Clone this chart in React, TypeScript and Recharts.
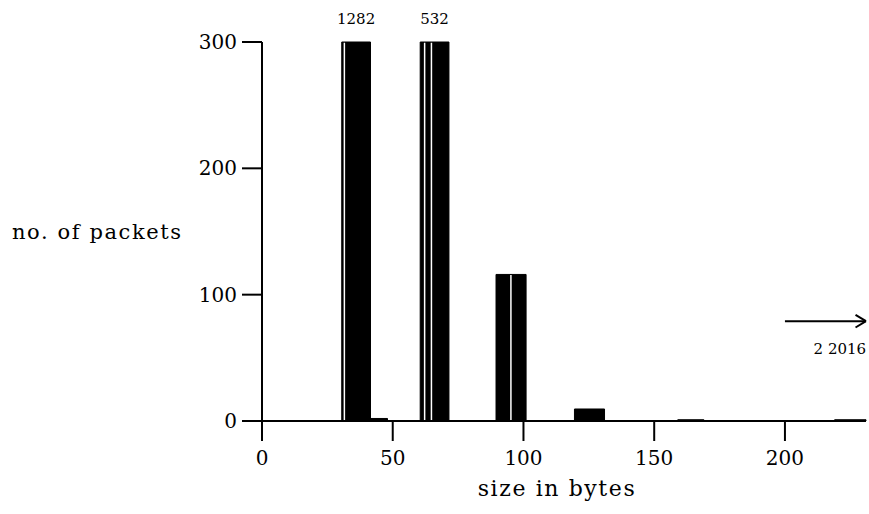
import React from 'react';
import { ComposedChart, Area, XAxis, YAxis, ReferenceDot, ReferenceLine } from 'recharts';

// Histogram bins (size in bytes) and packet counts
const binStart = [30.5, 41.5, 60.5, 89.5, 119.5, 159, 219];
const binEnd = [41.5, 48, 71.5, 101, 131, 169, 231];
const counts = [1282, 2, 532, 116, 9.5, 1, 1];

// Counts beyond the axis top are written above the bars
const yMax = 300;
const overflowX = [36, 66];
const overflowLabels = ['1282', '532'];

// Print artefacts: thin white stripes inside the tall bars
const stripeX = [31.5, 62.2, 64.8, 95.2];
const stripeTop = [300, 300, 300, 116];

const xTicks = [0, 50, 100, 150, 200];
const yTicks = [0, 100, 200, 300];

// Off-scale note (arrow to the right)
const arrowFrom = 200;
const arrowTo = 231;
const arrowY = 79;
const noteX = 221;
const noteY = 57;
const noteText = '2  2016';

const font = 'DejaVu Serif';

const stepData: { x: number; y: number }[] = [{ x: 0, y: 0 }];
binStart.forEach((s, i) => {
  stepData.push({ x: s, y: Math.min(counts[i], yMax) });
  stepData.push({ x: binEnd[i], y: 0 });
});

const X_TICK_LEN = 20;

const XTick = (props: any) => {
  const { x, y, payload } = props;
  return (
    <g>
      <path d={`M${x},${y - X_TICK_LEN}L${x},${y}`} stroke="#000" strokeWidth={2} fill="none" />
      <text x={x} y={y + 24} textAnchor="middle" fill="#000" fontSize={20} fontFamily={font}>
        {payload.value}
      </text>
    </g>
  );
};

export default function App() {
  return (
    <div style={{ position: 'absolute', left: 0, top: 0, background: '#fff', width: 869, height: 514 }}>
      <ComposedChart
        width={869}
        height={514}
        data={stepData}
        margin={{ top: 42, right: 3, bottom: 13, left: 0 }}
        style={{ overflow: 'visible' }}
      >
        <XAxis
          dataKey="x"
          type="number"
          domain={[0, 231]}
          ticks={xTicks}
          height={80}
          stroke="#000"
          tickSize={X_TICK_LEN}
          tickMargin={0}
          axisLine={{ stroke: '#000', strokeWidth: 2 }}
          tickLine={false}
          tick={<XTick />}
          label={{ value: 'size in bytes', position: 'insideBottom', offset: 5, dx: -7, fill: '#000', fontSize: 22, fontFamily: font, letterSpacing: 1.6 }}
        />
        <YAxis
          type="number"
          domain={[0, yMax]}
          ticks={yTicks}
          width={262}
          stroke="#000"
          tickSize={20}
          tickMargin={5}
          axisLine={{ stroke: '#000', strokeWidth: 2 }}
          tickLine={{ stroke: '#000', strokeWidth: 2 }}
          tick={{ fill: '#000', fontSize: 20, fontFamily: font }}
          label={{ value: 'no. of packets', position: 'insideLeft', offset: 12, fill: '#000', fontSize: 21, fontFamily: font, letterSpacing: 1.6 }}
        />
        <Area
          type="stepAfter"
          dataKey="y"
          stroke="#000"
          strokeWidth={1}
          fill="#000"
          fillOpacity={1}
          isAnimationActive={false}
          dot={false}
          activeDot={false}
        />
        {stripeX.map((sx, i) => (
          <ReferenceLine
            key={'s' + i}
            segment={[{ x: sx, y: 0.5 }, { x: sx, y: stripeTop[i] - 0.5 }]}
            stroke="#fff"
            strokeWidth={1.5}
          />
        ))}
        {overflowX.map((ox, i) => (
          <ReferenceDot
            key={'o' + i}
            x={ox}
            y={yMax}
            r={0}
            ifOverflow="visible"
            label={{ value: overflowLabels[i], position: 'top', offset: 18, fill: '#000', fontSize: 15, fontFamily: font }}
          />
        ))}
        <ReferenceLine
          segment={[{ x: arrowFrom, y: arrowY }, { x: arrowTo, y: arrowY }]}
          stroke="#000"
          strokeWidth={2}
          ifOverflow="visible"
        />
        <ReferenceLine
          segment={[{ x: arrowTo - 4, y: arrowY + 5 }, { x: arrowTo, y: arrowY }]}
          stroke="#000"
          strokeWidth={2}
          ifOverflow="visible"
        />
        <ReferenceLine
          segment={[{ x: arrowTo - 4, y: arrowY - 5 }, { x: arrowTo, y: arrowY }]}
          stroke="#000"
          strokeWidth={2}
          ifOverflow="visible"
        />
        <ReferenceDot
          x={noteX}
          y={noteY}
          r={0}
          ifOverflow="visible"
          label={{ value: noteText, position: 'center', fill: '#000', fontSize: 15, fontFamily: font, style: { whiteSpace: 'pre' } }}
        />
      </ComposedChart>
    </div>
  );
}
